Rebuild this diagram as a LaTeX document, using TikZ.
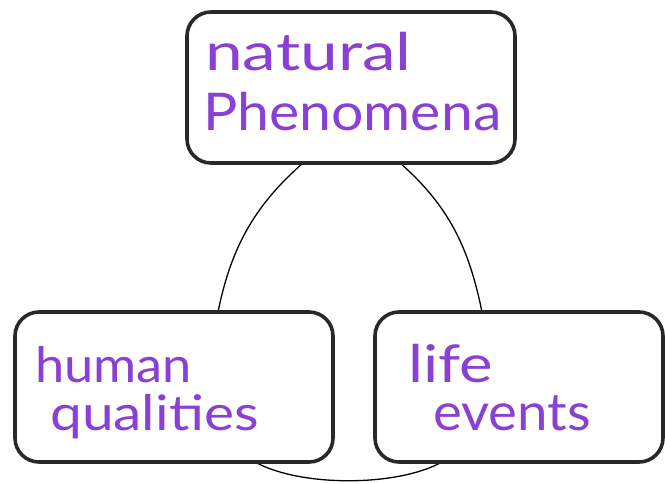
\documentclass[tikz,border=0pt]{standalone}
\usepackage{fontspec}
\setmainfont{Lato}
\usetikzlibrary{backgrounds}
\definecolor{ink}{RGB}{138,64,212}
\definecolor{boxline}{RGB}{40,40,40}
\tikzset{
  card/.style={draw=boxline, line width=3.6pt, rounded corners=24pt, fill=white, inner sep=0pt, outer sep=0pt},
  hand/.style={text=ink, anchor=base west, inner sep=0pt, font=\fontsize{52}{52}\selectfont},
  link/.style={draw=black, line width=1.3pt}
}
\begin{document}
\begin{tikzpicture}[x=1pt,y=-1pt]
\useasboundingbox (0,0) rectangle (665,483);
\node[card, minimum width=328pt, minimum height=151pt] (top) at (351,87.5) {};
\node[card, minimum width=318pt, minimum height=150pt] (left) at (174,387) {};
\node[card, minimum width=288pt, minimum height=150pt] (right) at (519,387) {};
\begin{scope}[on background layer]
\draw[link] ([xshift=116pt]top.south west) .. controls +(-49,43) and +(13,-64) .. ([xshift=203pt]left.north west);
\draw[link] ([xshift=213pt]top.south west) .. controls +(49,43) and +(-13,-64) .. ([xshift=107pt]right.north west);
\draw[link] ([xshift=240pt]left.south west) .. controls +(45,25) and +(-45,25) .. ([xshift=67pt]right.south west);
\end{scope}
\node[hand] (t1) at (205,70) {\scalebox{1.3}[1]{natural}};
\node[hand] (t2) at (203,130) {\scalebox{1.1}[1]{Phenomena}};
\node[hand, font=\fontsize{49}{49}\selectfont] (l1) at (35,382) {\scalebox{1.07}[1]{human}};
\node[hand, font=\fontsize{49}{49}\selectfont] (l2) at (50,430) {\scalebox{1.16}[1]{qualities}};
\node[hand] (r1) at (408,382) {\scalebox{1.22}[1]{life}};
\node[hand] (r2) at (433,430) {\scalebox{1.05}[1]{events}};
\end{tikzpicture}
\end{document}
